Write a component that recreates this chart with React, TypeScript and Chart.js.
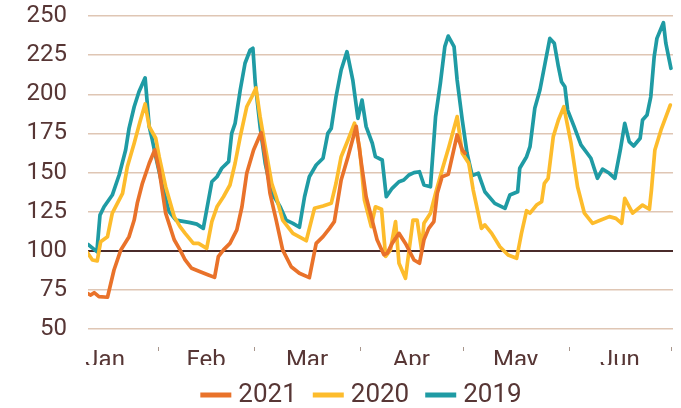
import React, { useEffect, useRef } from "react";
import { Chart, registerables } from "chart.js";

Chart.register(...registerables);

const seriesLabels = ["2021", "2020", "2019"];
const seriesColors = ["#E9722A", "#FDBC2C", "#1F9BA4"];

const monthLabels = ["Jan", "Feb", "Mar", "Apr", "May", "Jun"];
const monthMidDays = [15.5, 45, 74.5, 105, 135.5, 166];
const monthStartDays = [31, 59, 90, 120, 151, 181];
const yTicks = [50, 75, 100, 125, 150, 175, 200, 225, 250];

const days2021 = [10.3, 11.3, 12.3, 13.7, 16.2, 18.1, 20.1, 22.5, 24.0, 24.9, 26.4, 28.4, 30.0, 31.3, 33.2, 35.7, 37.4, 38.9, 40.8, 43.3, 45.7, 47.5, 48.6, 50.1, 52.0, 54.0, 55.5, 56.9, 58.9, 61.1, 62.3, 63.7, 65.5, 67.4, 69.9, 72.3, 75.2, 77.2, 79.2, 81.1, 82.5, 84.5, 86.5, 88.9, 90.4, 91.8, 93.3, 95.0, 97.0, 98.0, 99.4, 101.4, 103.3, 105.8, 107.4, 108.7, 110.1, 111.6, 112.6, 114.0, 115.8, 118.4, 119.9, 120.7];
const values2021 = [72.8, 71.7, 73.2, 70.7, 70.3, 87.7, 100.5, 109, 119.6, 130.3, 143.1, 155.9, 164.4, 151.6, 124, 107, 100.6, 94.1, 88.8, 86.6, 84.5, 83, 96.2, 100.6, 104.7, 113.3, 128.1, 149.5, 164.4, 175.5, 160.1, 136.7, 119.6, 100.6, 89.8, 85.6, 82.8, 104.7, 109, 114.3, 118.6, 145.2, 160.1, 179.5, 155.9, 134.5, 121.8, 107, 97.4, 98.5, 104.7, 111.1, 104.7, 94.1, 92, 107, 114.3, 118.6, 136.7, 147.3, 148.8, 174, 164.4, 162.3];

const days2020 = [10.3, 11.8, 13.2, 14.2, 16.2, 17.6, 20.6, 22.0, 24.0, 25.7, 27.2, 28.4, 30.3, 31.3, 33.2, 35.7, 37.4, 38.9, 41.3, 42.8, 45.2, 46.7, 48.2, 50.1, 52.0, 53.5, 55.0, 56.9, 58.4, 59.6, 60.8, 62.3, 64.2, 65.5, 67.4, 70.4, 74.3, 76.7, 79.2, 81.6, 83.0, 84.5, 86.5, 88.4, 89.9, 91.3, 93.3, 94.5, 96.3, 97.5, 98.9, 100.4, 101.4, 103.3, 105.5, 106.7, 108.0, 108.7, 110.6, 112.1, 114.0, 116.0, 118.4, 119.9, 121.8, 123.1, 125.5, 126.5, 128.5, 130.9, 133.3, 135.8, 137.2, 138.7, 139.7, 141.6, 143.1, 143.9, 145.0, 146.5, 148.0, 149.6, 151.7, 153.6, 155.6, 158.0, 160.4, 162.9, 164.8, 166.5, 167.4, 169.7, 172.6, 174.6, 175.2, 176.2, 178.0, 180.7];
const values2020 = [98.9, 94.1, 93.5, 105.8, 109, 124, 136.7, 153.7, 168.7, 182.5, 193.8, 179.3, 171.9, 160.1, 140.9, 121.8, 115.4, 111.1, 104.7, 104.7, 101.5, 118.6, 128.1, 134.5, 142, 155.9, 172.9, 192, 198.4, 204, 185.7, 166.5, 143.1, 134.5, 119.6, 111.1, 106.4, 127.1, 128.6, 130.3, 143.1, 160.1, 170.8, 181.5, 165.5, 132.4, 115.4, 128.1, 126.5, 96.4, 100.6, 118.6, 92, 82.4, 119.6, 119.6, 100.6, 117.5, 124, 136.7, 151.6, 166.5, 185.7, 162.3, 155.9, 138.8, 114.3, 116.5, 111.1, 102.6, 97.3, 95.2, 111.1, 125.6, 124, 129.2, 131.3, 143.1, 146.3, 172.9, 183.5, 192, 168.7, 140.9, 124, 117.5, 119.6, 121.8, 120.7, 117.5, 133.5, 124, 129.2, 126.5, 138.8, 164.4, 177.2, 193.1];

const days2019 = [10.5, 13.1, 14.0, 15.2, 17.6, 19.6, 21.5, 22.5, 24.0, 25.4, 27.2, 28.4, 29.3, 30.3, 32.3, 34.2, 36.2, 40.4, 42.3, 44.2, 46.7, 48.2, 49.6, 51.6, 52.5, 53.5, 55.0, 56.4, 57.9, 58.7, 59.4, 60.8, 62.3, 64.2, 65.5, 66.7, 68.4, 70.4, 72.3, 73.8, 75.2, 77.2, 79.2, 80.6, 81.6, 83.0, 84.5, 86.2, 87.9, 89.4, 90.6, 91.8, 93.6, 94.5, 96.5, 97.7, 99.4, 101.4, 102.8, 104.3, 105.8, 107.4, 108.7, 110.6, 112.1, 113.5, 114.8, 115.8, 117.5, 118.4, 119.9, 121.3, 122.8, 124.6, 126.5, 129.4, 132.4, 133.8, 136.1, 136.7, 138.7, 139.7, 141.1, 142.6, 144.1, 145.5, 146.8, 148.0, 148.9, 149.9, 150.7, 152.6, 154.6, 157.5, 159.4, 160.9, 162.9, 164.5, 166.1, 167.4, 168.7, 170.0, 171.9, 172.6, 173.9, 175.0, 176.0, 176.8, 178.7, 179.4, 180.9];
const values2019 = [104.1, 99.4, 122.8, 128.1, 135.6, 148.4, 164.4, 178.2, 192, 201.6, 210.5, 179.3, 170.8, 160.1, 140.9, 125, 119.6, 118, 117, 114.3, 144.1, 147.3, 152.7, 156.9, 175, 181.4, 202.7, 219.8, 228.3, 229.4, 207, 179.3, 155.9, 136.7, 132.4, 128, 119.6, 117.5, 115, 134.5, 147.3, 154.8, 159.1, 175, 178.2, 198.4, 215.5, 227.2, 209.1, 184.6, 196.3, 179.3, 168.7, 160.1, 158, 134.5, 139.9, 144.1, 145.2, 148.4, 149.9, 150.5, 142, 140.9, 185.7, 207, 230.4, 237.2, 230.4, 209.1, 183.5, 162.3, 148, 149.5, 137.7, 130.3, 127.1, 135.6, 137.7, 152.7, 160.1, 166.5, 191, 202.7, 219.8, 235.7, 232.6, 217.6, 208, 204.8, 189.9, 179.3, 167.6, 159.1, 146.3, 152.1, 149.5, 146.3, 164.4, 181.4, 169.7, 166.9, 171.9, 183.5, 186.7, 198.4, 224, 235.7, 245.7, 232.6, 216.6];

const seriesDays = [days2021, days2020, days2019];
const seriesValues = [values2021, values2020, values2019];

const FONT = "Roboto";
const TEXT_COLOR = "#573635";
const GRID_COLOR = "#DFC6B4";
const BASE_COLOR = "#4A2B2A";

const monthTickPlugin = {
  id: "monthTicks",
  afterDraw(chart: any) {
    const { ctx, chartArea, scales } = chart;
    const x = scales.x;
    ctx.save();
    ctx.strokeStyle = "#A8968C";
    ctx.lineWidth = 1;
    monthStartDays.forEach((d) => {
      const px = Math.round(x.getPixelForValue(d)) + 0.5;
      ctx.beginPath();
      ctx.moveTo(px, chartArea.bottom + 18);
      ctx.lineTo(px, chartArea.bottom + 22);
      ctx.stroke();
    });
    ctx.restore();
  },
};

const legendPlugin = {
  id: "customLegend",
  afterDraw(chart: any) {
    const { ctx } = chart;
    const boxW = 31;
    const boxH = 5;
    const gap = 7;
    const itemGap = 16;
    const centerX = 361;
    const cy = 395;
    ctx.save();
    ctx.font = `400 26px ${FONT}`;
    const items = chart.data.datasets.map((ds: any) => ({
      label: ds.label,
      color: ds.borderColor,
      w: ctx.measureText(ds.label).width,
    }));
    const total =
      items.reduce((s: number, it: any) => s + boxW + gap + it.w, 0) +
      itemGap * (items.length - 1);
    let x = centerX - total / 2;
    ctx.textBaseline = "middle";
    ctx.textAlign = "left";
    items.forEach((it: any) => {
      ctx.fillStyle = it.color;
      ctx.fillRect(x, cy - boxH / 2, boxW, boxH);
      ctx.fillStyle = TEXT_COLOR;
      ctx.fillText(it.label, x + boxW + gap, cy);
      x += boxW + gap + it.w + itemGap;
    });
    ctx.restore();
  },
};

export default function App() {
  const ref = useRef<HTMLCanvasElement>(null);

  useEffect(() => {
    if (!ref.current) return;
    const datasets = seriesLabels.map((label, i) => ({
      label,
      data: seriesDays[i].map((d, j) => ({ x: d, y: seriesValues[i][j] })),
      borderColor: seriesColors[i],
      backgroundColor: seriesColors[i],
      borderWidth: 3.7,
      pointRadius: 0,
      tension: 0,
      fill: false,
      borderJoinStyle: "round" as const,
      borderCapStyle: "round" as const,
    }));
    const chart = new Chart(ref.current, {
      type: "line",
      data: { datasets },
      plugins: [monthTickPlugin, legendPlugin],
      options: {
        animation: false,
        responsive: false,
        devicePixelRatio: 1,
        layout: { padding: { top: 16, right: 8, bottom: 43, left: 0 } },
        plugins: { legend: { display: false }, tooltip: { enabled: false } },
        scales: {
          x: {
            type: "linear",
            min: 10.5,
            max: 181.5,
            border: { display: false },
            grid: { display: false, drawTicks: false },
            afterBuildTicks: (scale: any) => {
              scale.ticks = monthMidDays.map((v) => ({ value: v }));
            },
            afterFit: (scale: any) => {
              scale.height = 36;
              scale.paddingLeft = 0;
              scale.paddingRight = 0;
            },
            ticks: {
              autoSkip: false,
              maxRotation: 0,
              padding: 20,
              color: TEXT_COLOR,
              font: { family: FONT, size: 24, weight: "400", lineHeight: 1 },
              callback: (_v: any, i: number) => monthLabels[i],
            },
          },
          y: {
            min: 50,
            max: 250,
            border: { display: false },
            afterBuildTicks: (scale: any) => {
              scale.ticks = yTicks.map((v) => ({ value: v }));
            },
            afterFit: (scale: any) => {
              scale.width = 88;
              scale.paddingTop = 0;
              scale.paddingBottom = 0;
            },
            grid: {
              drawTicks: false,
              color: (c: any) => (c.tick && c.tick.value === 100 ? BASE_COLOR : GRID_COLOR),
              lineWidth: (c: any) => (c.tick && c.tick.value === 100 ? 2 : 1.5),
            },
            ticks: {
              padding: 21,
              color: TEXT_COLOR,
              font: { family: FONT, size: 24, weight: "400", lineHeight: 1 },
            },
          },
        },
      },
    });
    return () => chart.destroy();
  }, []);

  return (
    <div style={{ position: "fixed", left: 0, top: 0, width: 681, height: 408 }}>
      <canvas ref={ref} width={681} height={408} />
    </div>
  );
}
